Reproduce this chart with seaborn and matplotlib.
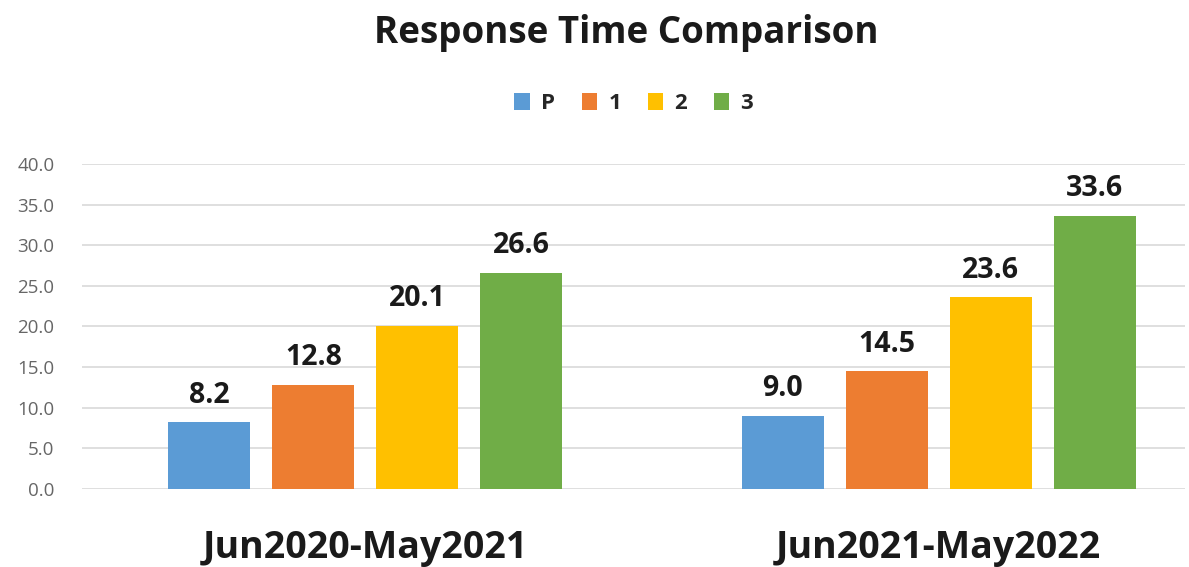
import matplotlib
matplotlib.use("Agg")
import matplotlib.pyplot as plt
import seaborn as sns
import pandas as pd

periods = ["Jun2020-May2021", "Jun2021-May2022"]
priorities = ["P", "1", "2", "3"]
values_2021 = [8.2, 12.8, 20.1, 26.6]
values_2022 = [9.0, 14.5, 23.6, 33.6]
colors = ["#5B9BD5", "#ED7D31", "#FFC000", "#70AD47"]

rows = []
for period, vals in zip(periods, [values_2021, values_2022]):
    for p, v in zip(priorities, vals):
        rows.append({"period": period, "priority": p, "value": v})
df = pd.DataFrame(rows)

sns.set_style("white")
plt.rcParams["font.family"] = ["Open Sans", "DejaVu Sans"]

fig = plt.figure(figsize=(11.89, 5.67), dpi=100)
ax = fig.add_axes([0.069, 0.1376, 0.928, 0.5732])

sns.barplot(data=df, x="period", y="value", hue="priority",
            palette=colors, saturation=1, width=0.725, gap=0.21, ax=ax,
            legend=True, errorbar=None, linewidth=0)

for cont in ax.containers:
    ax.bar_label(cont, fmt="%.1f", padding=9, fontsize=20.5,
                 fontweight="bold", color="#1a1a1a")

ax.set_ylim(0, 40)
ax.set_xlim(-0.494, 1.43)
ax.set_yticks(range(0, 41, 5))
ax.set_yticklabels([f"{t:.1f}" for t in range(0, 41, 5)])
ax.yaxis.grid(True, color="#d9d9d9", linewidth=1.2)
ax.set_axisbelow(True)
for s in ax.spines.values():
    s.set_visible(False)
ax.tick_params(axis="y", length=0, labelsize=13.5, labelcolor="#666666", pad=20)
ax.tick_params(axis="x", length=0, labelsize=27, labelcolor="#1a1a1a", pad=29)
for lbl in ax.get_xticklabels():
    lbl.set_fontweight("bold")
ax.set_xlabel("")
ax.set_ylabel("")

handles, labels = ax.get_legend_handles_labels()
ax.legend(handles, labels, loc="center", bbox_to_anchor=(0.5, 1.187),
          ncol=4, frameon=False, handlelength=0.7, handleheight=0.8,
          handletextpad=0.5, columnspacing=1.2,
          prop={"size": 16, "weight": "bold"})

fig.text(0.527, 0.942, "Response Time Comparison", ha="center", va="center",
         fontsize=26.5, fontweight="bold", color="#1a1a1a")

fig.savefig("out.png", dpi=100)
